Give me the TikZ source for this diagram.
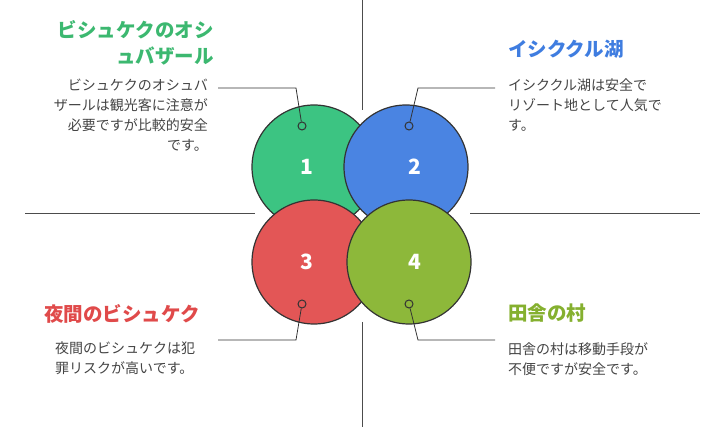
\documentclass[tikz,border=0pt]{standalone}
\usepackage{fontspec}
\newfontfamily\cjk{Noto Sans CJK JP}
\definecolor{cgreen}{HTML}{3CC482}
\definecolor{cblue}{HTML}{4A84E2}
\definecolor{cred}{HTML}{E35656}
\definecolor{colive}{HTML}{8DB83A}
\definecolor{tgreen}{HTML}{3CB870}
\definecolor{tblue}{HTML}{3F7DE0}
\definecolor{tred}{HTML}{E04A4A}
\definecolor{tolive}{HTML}{85B02F}
\definecolor{body}{HTML}{444444}
\tikzset{
  circ/.style={circle,draw=black!80,line width=1.2pt,minimum size=124pt,inner sep=0pt},
  num/.style={font=\cjk\bfseries\fontsize{21}{21}\selectfont,text=white},
  dot/.style={circle,draw=black!80,line width=1pt,minimum size=8pt,inner sep=0pt},
  lead/.style={draw=black!80,line width=0.8pt},
  axis/.style={draw=black!70,line width=0.8pt},
  ttl/.style={font=\cjk\bfseries\fontsize{19.5}{26}\selectfont,inner sep=0pt},
  txt/.style={font=\cjk\fontsize{14}{20}\selectfont,text=body,inner sep=0pt}
}
\begin{document}
\begin{tikzpicture}[x=1pt,y=-1pt]
\useasboundingbox (0,0) rectangle (723,427);
% axes
\draw[axis] (362,0) -- (362,110);
\draw[axis] (362,322) -- (362,427);
\draw[axis] (25,213) -- (255,213);
\draw[axis] (470,213) -- (700,213);
% circles
\node[circ,fill=cgreen] (c1) at (314,167) {};
\node[circ,fill=cblue] (c2) at (406,167) {};
\node[circ,fill=cred] (c3) at (314,262) {};
\node[circ,fill=colive] (c4) at (409,262) {};
\node[num] at (307,167) {1};
\node[num] at (415,167) {2};
\node[num] at (307,262) {3};
\node[num] at (415,262) {4};
% leaders
\node[dot] (d1) at (302,126) {};
\node[dot] (d2) at (409,126) {};
\node[dot] (d3) at (302,304) {};
\node[dot] (d4) at (409,304) {};
\coordinate (e1) at (218,88);
\coordinate (e2) at (495,88);
\coordinate (e3) at (218,340);
\coordinate (e4) at (495,340);
\draw[lead] (d1) -- (296,88) -- (e1);
\draw[lead] (d2) -- (418,88) -- (e2);
\draw[lead] (d3) -- (296,340) -- (e3);
\draw[lead] (d4) -- (418,340) -- (e4);
% texts
\node[ttl,text=tgreen,align=right,anchor=north east] (t1) at (214,20) {ビシュケクのオシ\\ュバザール};
\node[txt,align=right,anchor=north east] (b1) at (208,79) {ビシュケクのオシュバ\\ザールは観光客に注意が\\必要ですが比較的安全\\です。};
\node[ttl,text=tblue,anchor=north west] (t2) at (508,40) {イシククル湖};
\node[txt,align=left,anchor=north west] (b2) at (508,79) {イシククル湖は安全で\\リゾート地として人気で\\す。};
\node[ttl,text=tred,anchor=north west] (t3) at (44,304) {夜間のビシュケク};
\node[txt,align=left,anchor=north west] (b3) at (55,342) {夜間のビシュケクは犯\\罪リスクが高いです。};
\node[ttl,text=tolive,anchor=north west] (t4) at (508,304) {田舎の村};
\node[txt,align=left,anchor=north west] (b4) at (508,342) {田舎の村は移動手段が\\不便ですが安全です。};
\end{tikzpicture}
\end{document}
